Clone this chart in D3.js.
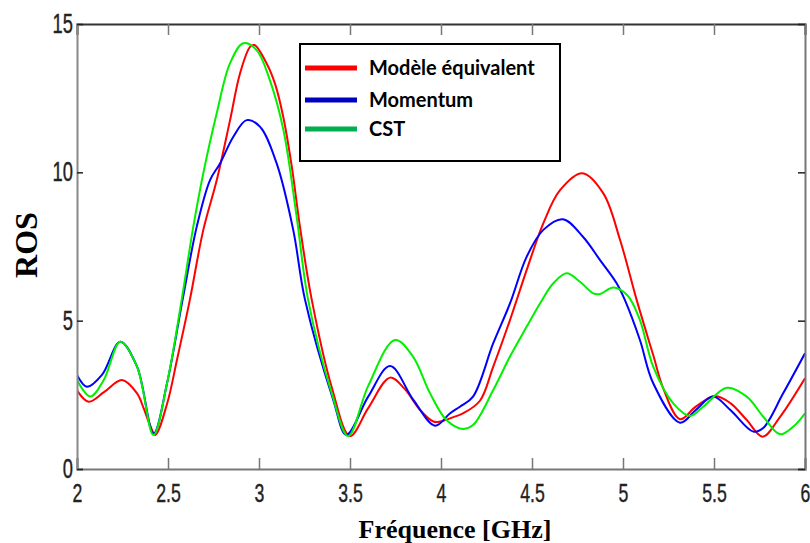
<!DOCTYPE html>
<html>
<head>
<meta charset="utf-8">
<script src="https://cdn.jsdelivr.net/npm/d3@7"></script>
<style>
  html, body { margin: 0; padding: 0; background: #fff; }
  svg { display: block; }
</style>
</head>
<body>
<div id="chart"></div>
<script>
// ---- Data ----
const xTicks = [2, 2.5, 3, 3.5, 4, 4.5, 5, 5.5, 6];
const xTickLabels = ["2", "2.5", "3", "3.5", "4", "4.5", "5", "5.5", "6"];
const yTicks = [0, 5, 10, 15];
const yTickLabels = ["0", "5", "10", "15"];

const seriesNames = ["Modèle équivalent", "Momentum", "CST"];

const redFreq = [2.00, 2.064, 2.15, 2.247, 2.33, 2.366, 2.40, 2.43, 2.495, 2.55, 2.62, 2.694, 2.768, 2.841, 2.896, 2.951, 2.975, 3.042, 3.09, 3.134, 3.18, 3.225, 3.29, 3.40, 3.50, 3.60, 3.72, 3.80, 3.885, 3.958, 3.995, 4.068, 4.123, 4.214, 4.287, 4.379, 4.471, 4.562, 4.654, 4.777, 4.892, 4.984, 5.075, 5.166, 5.221, 5.313, 5.40, 5.505, 5.59, 5.68, 5.767, 5.863, 6.00];
const redVals = [2.65, 2.27, 2.6, 3.0, 2.55, 2.05, 1.5, 1.15, 2.2, 3.7, 5.7, 8.06, 9.74, 11.76, 13.34, 14.23, 14.29, 13.67, 12.95, 11.85, 10.2, 8.17, 5.7, 2.75, 1.11, 2.05, 3.08, 2.7, 1.99, 1.6, 1.6, 1.75, 1.88, 2.3, 3.45, 5.02, 6.71, 8.28, 9.4, 9.97, 9.29, 7.72, 5.7, 3.84, 2.72, 1.68, 2.1, 2.46, 2.22, 1.65, 1.09, 1.76, 3.06];

const blueFreq = [2.00, 2.055, 2.137, 2.238, 2.33, 2.421, 2.495, 2.58, 2.658, 2.731, 2.786, 2.859, 2.932, 3.005, 3.097, 3.188, 3.253, 3.408, 3.48, 3.60, 3.72, 3.848, 3.967, 4.05, 4.104, 4.176, 4.287, 4.379, 4.471, 4.562, 4.67, 4.78, 4.874, 4.965, 5.01, 5.093, 5.166, 5.313, 5.40, 5.495, 5.59, 5.716, 5.77, 5.88, 6.00];
const blueVals = [3.17, 2.77, 3.17, 4.29, 3.45, 1.2, 2.9, 5.7, 8.17, 9.74, 10.3, 11.2, 11.76, 11.54, 10.3, 8.06, 5.7, 2.33, 1.15, 2.44, 3.47, 2.33, 1.46, 1.88, 2.1, 2.44, 4.24, 5.58, 7.16, 8.06, 8.42, 7.83, 7.04, 6.26, 5.7, 4.35, 2.89, 1.56, 1.99, 2.44, 1.99, 1.26, 1.38, 2.55, 3.9];

const greenFreq = [2.00, 2.073, 2.147, 2.238, 2.33, 2.42, 2.495, 2.575, 2.639, 2.694, 2.768, 2.841, 2.914, 2.987, 3.06, 3.134, 3.207, 3.27, 3.40, 3.49, 3.60, 3.747, 3.846, 3.94, 4.03, 4.12, 4.176, 4.287, 4.379, 4.471, 4.544, 4.617, 4.69, 4.764, 4.837, 4.874, 4.947, 5.025, 5.093, 5.166, 5.276, 5.368, 5.441, 5.57, 5.68, 5.771, 5.863, 5.936, 6.00];
const greenVals = [3.0, 2.44, 3.0, 4.29, 3.45, 1.15, 2.9, 5.7, 8.17, 9.97, 12.0, 13.68, 14.35, 14.12, 13.1, 11.43, 8.5, 5.7, 2.55, 1.11, 2.8, 4.35, 3.79, 2.55, 1.65, 1.35, 1.48, 2.66, 3.79, 4.8, 5.58, 6.26, 6.6, 6.31, 5.92, 5.9, 6.12, 5.85, 5.02, 3.45, 2.21, 1.79, 2.1, 2.74, 2.44, 1.76, 1.17, 1.43, 1.88];

// ---- Layout ----
const W = 810, H = 543;
const mLeft = 77, mRight = 805, mTop = 24, mBottom = 469;

const svg = d3.select("#chart").append("svg")
  .attr("width", W).attr("height", H);

const x = d3.scaleLinear().domain([2, 6]).range([mLeft, mRight]);
const y = d3.scaleLinear().domain([0, 15]).range([mBottom, mTop]);

const defs = svg.append("defs");
defs.append("clipPath").attr("id", "plotclip")
  .append("rect").attr("x", mLeft).attr("y", mTop - 2)
  .attr("width", mRight - mLeft).attr("height", mBottom - mTop + 2);

const series = [
  { name: seriesNames[0], f: redFreq, v: redVals, color: "#ff0000", legend: "#ff0000" },
  { name: seriesNames[1], f: blueFreq, v: blueVals, color: "#0000ff", legend: "#0000c0" },
  { name: seriesNames[2], f: greenFreq, v: greenVals, color: "#00f000", legend: "#00b050" }
];

const line = d3.line()
  .x(d => x(d[0])).y(d => y(d[1]))
  .curve(d3.curveCatmullRom.alpha(0.5));

const gLines = svg.append("g").attr("clip-path", "url(#plotclip)");
series.forEach(s => {
  const pts = s.f.map((f, i) => [f, s.v[i]]);
  gLines.append("path").datum(pts)
    .attr("d", line)
    .attr("fill", "none")
    .attr("stroke", s.color)
    .attr("stroke-width", 2)
    .attr("stroke-linejoin", "round");
});

// ---- Axes ----
const tickFont = "'Liberation Sans', Arial, sans-serif";
const narrow = "scale(0.68,1)";

const xAxisB = d3.axisBottom(x).tickValues(xTicks)
  .tickSize(-11).tickFormat((d, i) => xTickLabels[i]).tickPadding(15);
const gxb = svg.append("g").attr("transform", `translate(0,${mBottom})`).call(xAxisB);
gxb.select(".domain").attr("stroke", "#777").attr("stroke-width", 2);
gxb.selectAll(".tick line").attr("stroke", "#777").attr("stroke-width", 1.5);
gxb.selectAll(".tick text")
  .attr("font-family", tickFont).attr("font-size", 26).attr("fill", "#222")
  .attr("stroke", "#222").attr("stroke-width", 0.4)
  .attr("transform", narrow);

const xAxisT = d3.axisTop(x).tickValues(xTicks).tickSize(-11).tickFormat("");
const gxt = svg.append("g").attr("transform", `translate(0,${mTop})`).call(xAxisT);
gxt.select(".domain").attr("stroke", "#333").attr("stroke-width", 2);
gxt.selectAll(".tick line").attr("stroke", "#777").attr("stroke-width", 1.5);

const yAxisL = d3.axisLeft(y).tickValues(yTicks)
  .tickSize(-6).tickFormat((d, i) => yTickLabels[i]).tickPadding(6);
const gyl = svg.append("g").attr("transform", `translate(${mLeft},0)`).call(yAxisL);
gyl.select(".domain").attr("stroke", "#888").attr("stroke-width", 2);
gyl.selectAll(".tick line").attr("stroke", "#222").attr("stroke-width", 1.5);
gyl.selectAll(".tick text")
  .attr("font-family", tickFont).attr("font-size", 27).attr("fill", "#222")
  .attr("stroke", "#222").attr("stroke-width", 0.4)
  .attr("transform", narrow);

const yAxisR = d3.axisRight(y).tickValues(yTicks).tickSize(-7).tickFormat("");
const gyr = svg.append("g").attr("transform", `translate(${mRight},0)`).call(yAxisR);
gyr.select(".domain").attr("stroke", "#777").attr("stroke-width", 2);
gyr.selectAll(".tick line").attr("stroke", "#222").attr("stroke-width", 1.5);

// ---- Axis titles ----
svg.append("text")
  .attr("x", 455).attr("y", 538)
  .attr("text-anchor", "middle")
  .attr("font-family", "'Liberation Serif', 'Times New Roman', serif")
  .attr("font-weight", "bold").attr("font-size", 26).attr("fill", "#000")
  .text("Fréquence [GHz]");

svg.append("text")
  .attr("transform", "translate(37,245) rotate(-90)")
  .attr("text-anchor", "middle")
  .attr("font-family", "'Liberation Serif', 'Times New Roman', serif")
  .attr("font-weight", "bold").attr("font-size", 32).attr("fill", "#000")
  .text("ROS");

// ---- Legend ----
const lg = svg.append("g");
lg.append("rect").attr("x", 300).attr("y", 44).attr("width", 260).attr("height", 117)
  .attr("fill", "#fff").attr("stroke", "#000").attr("stroke-width", 2);
const legendY = [68, 100, 129];
series.forEach((s, i) => {
  lg.append("line").attr("x1", 305).attr("x2", 357)
    .attr("y1", legendY[i]).attr("y2", legendY[i])
    .attr("stroke", s.legend).attr("stroke-width", 5);
  lg.append("text").attr("x", 369).attr("y", legendY[i] + 7)
    .attr("font-family", "Lato, 'Open Sans', sans-serif")
    .attr("font-weight", "bold").attr("font-size", 20).attr("fill", "#000")
    .text(s.name);
});
</script>
</body>
</html>
